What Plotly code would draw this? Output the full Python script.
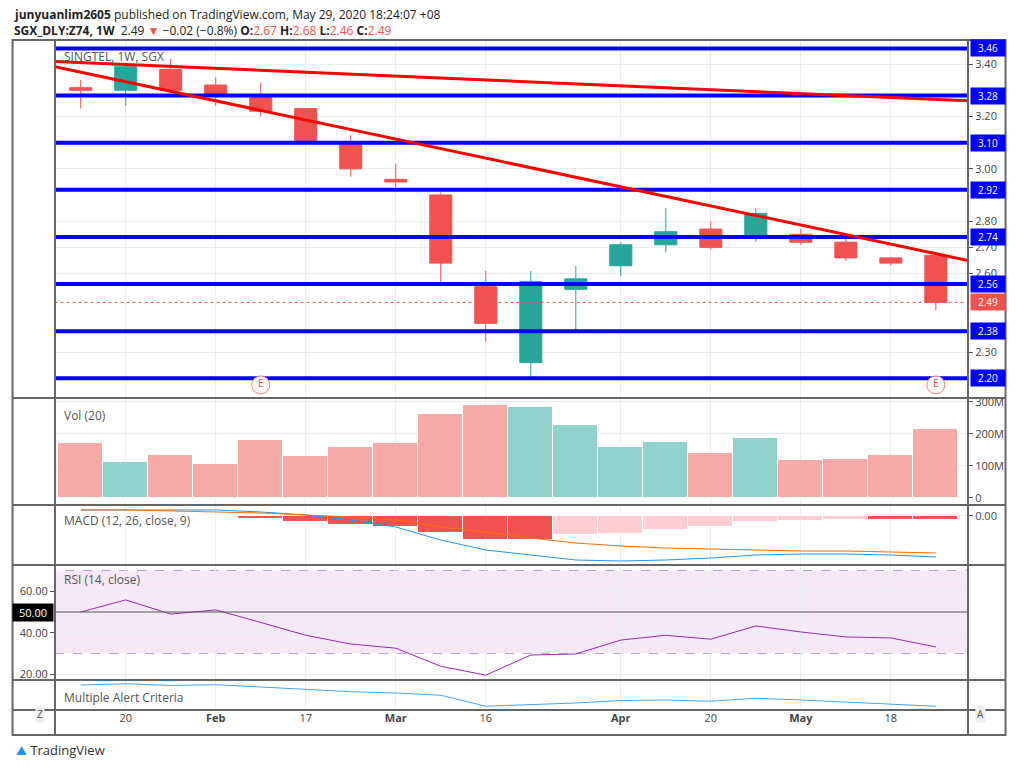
import pandas as pd
import plotly.graph_objects as go
from plotly.subplots import make_subplots

# semanas (candles semanais)
weeks = pd.date_range('2020-01-13', periods=20, freq='7D')
opens = [3.31, 3.30, 3.38, 3.32, 3.28, 3.23, 3.10, 2.96, 2.90, 2.55, 2.26, 2.54, 2.63, 2.71, 2.77, 2.74, 2.75, 2.72, 2.66, 2.67]
highs = [3.34, 3.40, 3.42, 3.35, 3.33, 3.23, 3.13, 3.02, 2.91, 2.61, 2.61, 2.63, 2.72, 2.85, 2.80, 2.85, 2.77, 2.75, 2.66, 2.68]
lows = [3.23, 3.24, 3.29, 3.24, 3.20, 3.10, 2.97, 2.93, 2.56, 2.34, 2.20, 2.38, 2.59, 2.68, 2.69, 2.72, 2.71, 2.65, 2.63, 2.46]
closes = [3.30, 3.39, 3.30, 3.28, 3.22, 3.10, 3.00, 2.95, 2.64, 2.41, 2.57, 2.58, 2.71, 2.76, 2.70, 2.83, 2.72, 2.66, 2.64, 2.49]
volumes = [172, 112, 134, 106, 181, 131, 159, 172, 262, 290, 284, 228, 159, 175, 140, 187, 118, 122, 134, 216]  # milhoes

levels = [3.46, 3.28, 3.10, 2.92, 2.74, 2.56, 2.38, 2.20]
price_ticks = [3.40, 3.20, 3.00, 2.80, 2.70, 2.60, 2.30]
trend1_x = ['2020-01-09', '2020-05-30']
trend1_y = [3.41, 3.26]
trend2_x = ['2020-01-09', '2020-05-30']
trend2_y = [3.39, 2.65]

macd_hist = [-0.000, -0.000, -0.000, -0.001, -0.003, -0.006, -0.009, -0.011, -0.017, -0.024, -0.024, -0.019, -0.018, -0.014, -0.011, -0.006, -0.005, -0.004, -0.004, -0.004]
macd_line = [0.006, 0.006, 0.006, 0.006, 0.004, 0.001, -0.004, -0.011, -0.024, -0.034, -0.039, -0.044, -0.045, -0.044, -0.042, -0.039, -0.038, -0.038, -0.039, -0.041]
macd_signal = [0.006, 0.006, 0.005, 0.004, 0.003, 0.001, -0.001, -0.004, -0.011, -0.016, -0.022, -0.027, -0.030, -0.032, -0.033, -0.034, -0.035, -0.035, -0.036, -0.037]
rsi = [50.0, 55.8, 49.0, 51.0, 45.0, 38.8, 34.6, 32.6, 23.9, 19.6, 29.3, 29.8, 36.5, 38.8, 36.9, 43.3, 40.4, 38.0, 37.5, 33.2]
alert = [5.0, 5.5, 4.8, 5.1, 4.2, 3.2, 2.3, 1.8, 0.9, -3.5, -3.0, -2.2, -1.2, -1.0, -1.5, -0.3, -1.0, -1.8, -2.4, -3.5]

tick_dates = ['2020-01-20', '2020-02-03', '2020-02-17', '2020-03-02', '2020-03-16', '2020-04-06', '2020-04-20', '2020-05-04', '2020-05-18']
tick_text = ['20', '<b>Feb</b>', '17', '<b>Mar</b>', '16', '<b>Apr</b>', '20', '<b>May</b>', '18']

GREEN, RED = '#26a69a', '#ef5350'
GRID = '#e8eef4'

fig = make_subplots(rows=5, cols=1, shared_xaxes=True, vertical_spacing=0)

fig.add_trace(go.Candlestick(
    x=weeks, open=opens, high=highs, low=lows, close=closes,
    increasing=dict(line=dict(color=GREEN, width=1), fillcolor=GREEN),
    decreasing=dict(line=dict(color=RED, width=1), fillcolor=RED),
    whiskerwidth=0, showlegend=False), row=1, col=1)

for lv in levels:
    fig.add_trace(go.Scatter(x=['2020-01-08', '2020-06-01'], y=[lv, lv], mode='lines',
                             line=dict(color='#0000ff', width=4), showlegend=False), row=1, col=1)
fig.add_trace(go.Scatter(x=trend1_x, y=trend1_y, mode='lines', line=dict(color='#ff0000', width=3), showlegend=False), row=1, col=1)
fig.add_trace(go.Scatter(x=trend2_x, y=trend2_y, mode='lines', line=dict(color='#ff0000', width=3), showlegend=False), row=1, col=1)
fig.add_trace(go.Scatter(x=['2020-01-08', '2020-06-01'], y=[closes[-1]] * 2, mode='lines',
                         line=dict(color=RED, width=1, dash='dot'), showlegend=False), row=1, col=1)
# marcadores de earnings
fig.add_trace(go.Scatter(x=[weeks[4], weeks[19]], y=[2.175, 2.175], mode='markers+text', text=['E', 'E'],
                         marker=dict(size=18, color='white', line=dict(color='#f77c80', width=1)),
                         textfont=dict(color='#f04a50', size=10), showlegend=False), row=1, col=1)

vol_colors = ['#f7a9a7' if c < o else '#92d2cc' for o, c in zip(opens, closes)]
fig.add_trace(go.Bar(x=weeks, y=[v * 1e6 for v in volumes], marker=dict(color=vol_colors, line=dict(width=1, color='white')),
                     width=7 * 86400000, showlegend=False), row=2, col=1)

hist_colors = []
for i, h in enumerate(macd_hist):
    prev = macd_hist[i - 1] if i > 0 else 0
    hist_colors.append(RED if h <= prev else '#ffcdd2')
fig.add_trace(go.Bar(x=weeks, y=macd_hist, marker=dict(color=hist_colors, line=dict(width=1, color='white')),
                     width=7 * 86400000, showlegend=False), row=3, col=1)
fig.add_trace(go.Scatter(x=weeks, y=macd_line, mode='lines', line=dict(color='#2196f3', width=1), showlegend=False), row=3, col=1)
fig.add_trace(go.Scatter(x=weeks, y=macd_signal, mode='lines', line=dict(color='#ff6d00', width=1), showlegend=False), row=3, col=1)

fig.add_trace(go.Scatter(x=weeks, y=rsi, mode='lines', line=dict(color='#9c27b0', width=1), showlegend=False), row=4, col=1)
fig.add_trace(go.Scatter(x=weeks, y=alert, mode='lines', line=dict(color='#42a5f5', width=1), showlegend=False), row=5, col=1)

doms = [(0.4657, 1.0), (0.306, 0.4657), (0.2164, 0.306), (0.0448, 0.2164), (0.0, 0.0448)]
for i, d in enumerate(doms, start=1):
    fig.update_yaxes(domain=list(d), row=i, col=1)
    fig.update_xaxes(tickvals=tick_dates, ticktext=tick_text, showgrid=True, gridcolor=GRID,
                     range=['2020-01-09', '2020-05-30'], rangeslider_visible=False,
                     showticklabels=(i == 5), ticks='', row=i, col=1)

fig.update_yaxes(range=[2.125, 3.492], side='right', tickvals=price_ticks, tickformat='.2f', gridcolor=GRID,
                 ticks='outside', ticklen=4, tickcolor='#555', row=1, col=1)
fig.update_yaxes(range=[-22e6, 312e6], side='right', tickvals=[0, 1e8, 2e8, 3e8], ticktext=['0', '100M', '200M', '300M'],
                 gridcolor=GRID, ticks='outside', ticklen=4, tickcolor='#555', row=2, col=1)
fig.update_yaxes(range=[-0.049, 0.011], side='right', tickvals=[0], ticktext=['0.00'], gridcolor=GRID, zeroline=False,
                 ticks='outside', ticklen=4, tickcolor='#555', row=3, col=1)
fig.update_yaxes(range=[17.3, 72.6], side='left', tickvals=[20, 40, 60], ticktext=['20.00', '40.00', '60.00'], gridcolor=GRID,
                 ticks='outside', ticklen=4, tickcolor='#555', row=4, col=1)
fig.update_yaxes(range=[-5, 7], showticklabels=False, showgrid=False, zeroline=False, row=5, col=1)

# faixa RSI 30-70 e linha 50
fig.add_shape(type='rect', xref='x4 domain', yref='y4', x0=0, x1=1, y0=30, y1=70, fillcolor='rgba(156,39,176,0.1)',
              line=dict(color='#b39ddb', width=1, dash='dash'), layer='below')
fig.add_shape(type='line', xref='x4 domain', yref='y4', x0=0, x1=1, y0=50, y1=50, line=dict(color='#555', width=1))

# bordas dos paineis
B = dict(color='#666', width=2)
fig.add_shape(type='rect', xref='paper', yref='paper', x0=-0.0465, x1=1.0411, y0=-0.0373, y1=1.0, line=B)
for y in [0.4657, 0.306, 0.2164, 0.0448, 0.0]:
    fig.add_shape(type='line', xref='paper', yref='paper', x0=-0.0465, x1=1.0411, y0=y, y1=y, line=B)
for x in [0, 1]:
    fig.add_shape(type='line', xref='paper', yref='paper', x0=x, x1=x, y0=-0.0373, y1=1.0, line=B)

ann = []
for lv in levels:
    ann.append(dict(xref='paper', yref='y', x=1.0, y=lv, xanchor='left', xshift=2, text='%.2f' % lv, showarrow=False,
                    bgcolor='#0000ff', font=dict(color='white', size=10), width=32))
ann.append(dict(xref='paper', yref='y', x=1.0, y=closes[-1], xanchor='left', xshift=2, text='%.2f' % closes[-1], showarrow=False,
                bgcolor=RED, font=dict(color='white', size=10), width=32))
ann.append(dict(xref='paper', yref='y4', x=0, y=50, xanchor='right', xshift=-1, text='50.00', showarrow=False,
                bgcolor='black', font=dict(color='white', size=11), width=38))
labels = [('SINGTEL, 1W, SGX', 0.975), ('Vol (20)', 0.439), ('MACD (12, 26, close, 9)', 0.283), ('RSI (14, close)', 0.195), ('Multiple Alert Criteria', 0.018)]
for t, y in labels:
    ann.append(dict(xref='paper', yref='paper', x=0.008, y=y, xanchor='left', yanchor='middle', text=t, showarrow=False,
                    font=dict(color='#555', size=12)))
ann.append(dict(xref='paper', yref='paper', x=-0.047, y=1.0385, xanchor='left', yanchor='middle', showarrow=False,
                text='<b>junyuanlim2605</b> published on TradingView.com, May 29, 2020 18:24:07 +08', font=dict(color='#222', size=12)))
ann.append(dict(xref='paper', yref='paper', x=-0.047, y=1.0135, xanchor='left', yanchor='middle', showarrow=False,
                text='<b>SGX_DLY:Z74, 1W</b>  2.49 <span style="color:#ef5350">▼</span> −0.02 (−0.8%) <b>O:</b><span style="color:#ef5350">2.67</span> <b>H:</b><span style="color:#ef5350">2.68</span> <b>L:</b><span style="color:#ef5350">2.46</span> <b>C:</b><span style="color:#ef5350">2.49</span>',
                font=dict(color='#222', size=12)))
ann.append(dict(xref='paper', yref='paper', x=-0.045, y=-0.06, xanchor='left', yanchor='middle', showarrow=False,
                text='<span style="color:#2196f3">⛰</span> TradingView', font=dict(color='#333', size=13)))
ann.append(dict(xref='paper', yref='paper', x=-0.022, y=-0.019, showarrow=False, text='Z', bgcolor='#eeeeee', font=dict(color='#555', size=10)))
ann.append(dict(xref='paper', yref='paper', x=1.02, y=-0.019, showarrow=False, text='A', bgcolor='#eeeeee', font=dict(color='#555', size=10)))

# 1008x752: a pagina tem margem de 8px no body
fig.update_layout(width=1008, height=752, margin=dict(l=40, r=44, t=32, b=50), plot_bgcolor='white', paper_bgcolor='white',
                  font=dict(family='Open Sans', size=11, color='#444'), annotations=ann, bargap=0, showlegend=False)
fig.write_html('out.html')
